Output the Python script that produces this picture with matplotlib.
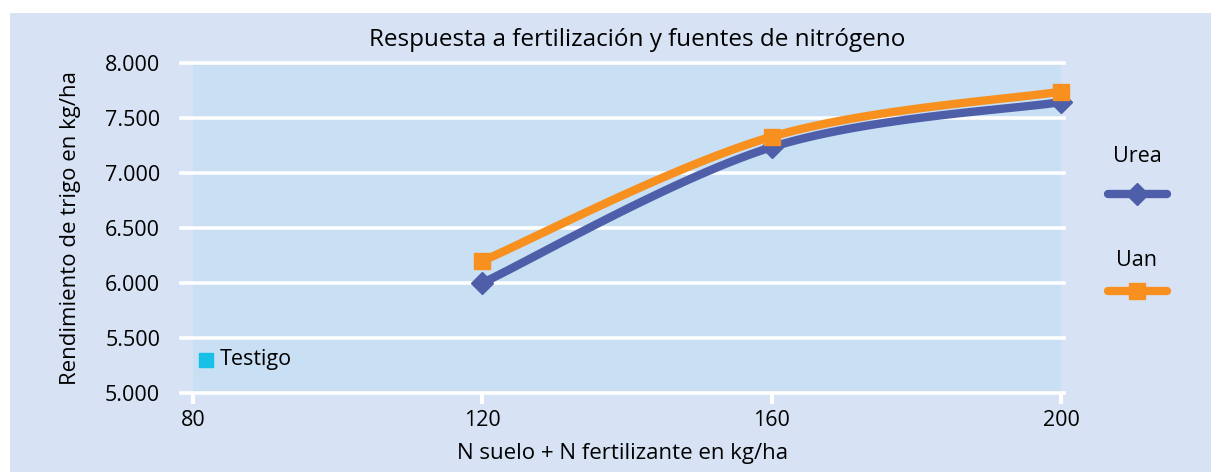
import numpy as np
import matplotlib
matplotlib.use("Agg")
import matplotlib.pyplot as plt
from matplotlib.patches import Rectangle
from matplotlib.ticker import FuncFormatter

plt.rcParams["font.family"] = ["Open Sans", "DejaVu Sans"]

# Datos
dosis_n = [120, 160, 200]
urea = [6000, 7235, 7645]
uan = [6200, 7330, 7740]
testigo_x = [81.8]
testigo_y = [5300]

x_ticks = [80, 120, 160, 200]
y_ticks = [5000, 5500, 6000, 6500, 7000, 7500, 8000]

C_UREA = "#4f5ea9"
C_UAN = "#f7901f"
C_TESTIGO = "#17c0e6"
C_FONDO = "#d7e3f4"
C_AREA = "#c8dff4"


def suavizar(xs, ys, n=40):
    # curva tipo Catmull-Rom (parecida a la linea suavizada de Excel)
    xs = np.asarray(xs, float); ys = np.asarray(ys, float)
    px = np.concatenate([[xs[0]], xs, [xs[-1]]])
    py = np.concatenate([[ys[0]], ys, [ys[-1]]])
    out_x, out_y = [], []
    t = np.linspace(0, 1, n)
    for i in range(1, len(px) - 2):
        for p, out in ((px, out_x), (py, out_y)):
            p0, p1, p2, p3 = p[i - 1], p[i], p[i + 1], p[i + 2]
            out.extend(0.5 * ((2 * p1) + (-p0 + p2) * t
                              + (2 * p0 - 5 * p1 + 4 * p2 - p3) * t ** 2
                              + (-p0 + 3 * p1 - 3 * p2 + p3) * t ** 3))
    return out_x, out_y


fig = plt.figure(figsize=(12.11, 4.72), dpi=100)
fig.patch.set_facecolor("white")
fig.patches.append(Rectangle((10 / 1211, 0), 1, 1 - 13 / 472, transform=fig.transFigure,
                             facecolor=C_FONDO, edgecolor="none", zorder=-10))

W, H = 1211, 472
ax = fig.add_axes([181 / W, 1 - 393 / H, (1064 - 181) / W, (393 - 63) / H])
ax.set_facecolor("none")
px_x = 40 / 289
ax.set_xlim(80 - 12 * px_x, 200 + 3 * px_x)
ax.set_ylim(5000, 8000)

ax.add_patch(Rectangle((80, 5000), 120, 3000, facecolor=C_AREA, edgecolor="none", zorder=0))
for y in y_ticks:
    ax.axhline(y, color="white", lw=2.6, zorder=1, clip_on=False)

for s in ax.spines.values():
    s.set_visible(False)

ax.set_xticks(x_ticks)
ax.set_yticks(y_ticks)
ax.yaxis.set_major_formatter(FuncFormatter(lambda v, p: f"{int(v):,}".replace(",", ".")))
ax.tick_params(axis="y", length=0, pad=15, labelsize=15.5)
ax.tick_params(axis="x", length=8, width=3, color="white", pad=4, labelsize=15.5)

sx, sy = suavizar(dosis_n, urea)
ax.plot(sx, sy, color=C_UREA, lw=6, solid_capstyle="round", zorder=3, clip_on=False)
ax.plot(dosis_n, urea, "D", color=C_UREA, ms=11, zorder=4, clip_on=False)
sx, sy = suavizar(dosis_n, uan)
ax.plot(sx, sy, color=C_UAN, lw=6, solid_capstyle="round", zorder=5, clip_on=False)
ax.plot(dosis_n, uan, "s", color=C_UAN, ms=12, zorder=6, clip_on=False)

ax.plot(testigo_x, testigo_y, "s", color=C_TESTIGO, ms=10, zorder=4)
ax.text(83.7, 5300, "Testigo", fontsize=15.5, va="center", ha="left")

ax.set_xlabel("N suelo + N fertilizante en kg/ha", fontsize=16, labelpad=9)
ax.set_ylabel("Rendimiento de trigo en kg/ha", fontsize=16, labelpad=17)
fig.text(637 / W, 1 - 40 / H, "Respuesta a fertilización y fuentes de nitrógeno",
         fontsize=17.5, ha="center", va="center")

# leyenda a la derecha
fig.text(1137 / W, 1 - 157 / H, "Urea", fontsize=15.5, ha="center", va="center")
fig.text(1137 / W, 1 - 260 / H, "Uan", fontsize=15.5, ha="center", va="center")
fig.add_artist(plt.Line2D([1108 / W, 1167 / W], [1 - 194 / H] * 2, color=C_UREA, lw=6,
                          solid_capstyle="round"))
fig.add_artist(plt.Line2D([1137 / W], [1 - 194 / H], marker="D", color=C_UREA, ms=11))
fig.add_artist(plt.Line2D([1108 / W, 1167 / W], [1 - 291 / H] * 2, color=C_UAN, lw=6,
                          solid_capstyle="round"))
fig.add_artist(plt.Line2D([1137 / W], [1 - 291 / H], marker="s", color=C_UAN, ms=12))

fig.savefig("out.png", dpi=100, facecolor=fig.get_facecolor())
